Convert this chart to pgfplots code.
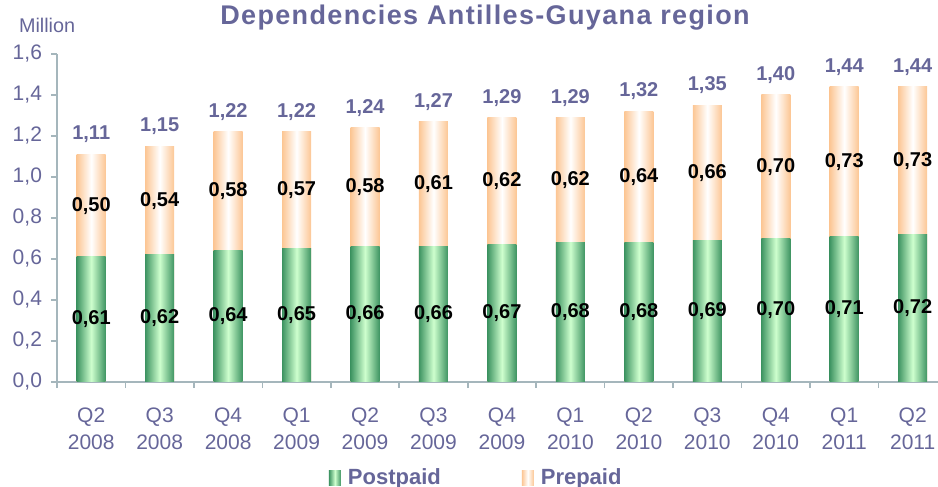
\documentclass[border=0pt]{standalone}
\usepackage{pgfplots}
\usepackage{pgfplotstable}
\usepackage{fontspec}
\setmainfont{Liberation Sans}
\pgfplotsset{compat=1.18}
\pgfkeys{/pgf/number format/assume math mode=true}

\definecolor{txtblue}{RGB}{102,102,153}
\definecolor{axisgray}{RGB}{165,182,188}
\definecolor{greenedge}{RGB}{62,148,98}
\definecolor{greenmid}{RGB}{206,255,206}
\definecolor{peachedge}{RGB}{252,198,148}

% Quarter, postpaid, prepaid, total (million)
\pgfplotstableread{
x post pre tot
0  0.61 0.50 1.11
1  0.62 0.54 1.15
2  0.64 0.58 1.22
3  0.65 0.57 1.22
4  0.66 0.58 1.24
5  0.66 0.61 1.27
6  0.67 0.62 1.29
7  0.68 0.62 1.29
8  0.68 0.64 1.32
9  0.69 0.66 1.35
10 0.70 0.70 1.40
11 0.71 0.73 1.44
12 0.72 0.73 1.44
}\data

\pgfplotsset{
  base/.style={
    scale only axis,
    width=440.5pt, height=164pt,
    at={(28.5pt,52.5pt)}, anchor=south west,
    xmin=-0.5, xmax=12.37,
    ymin=0, ymax=1.6,
  },
  greenbar/.style={draw=none, left color=greenedge, right color=greenedge, middle color=greenmid},
  peachbar/.style={draw=none, left color=peachedge, right color=peachedge, middle color=white},
  lab/.style={
    draw=none, mark=none,
    point meta=explicit,
    nodes near coords={\pgfmathprintnumber[fixed,fixed zerofill,precision=2,use comma]{\pgfplotspointmeta}},
    every node near coord/.append style={font=\bfseries\fontsize{10}{12}\selectfont},
  },
}

\begin{document}
\begin{tikzpicture}
\useasboundingbox (0,0) rectangle (469pt,243.5pt);

\begin{axis}[
  base,
  ybar,
  bar width=14.5pt,
  axis lines=left,
  axis line style={-, axisgray, line width=0.8pt},
  tick align=outside,
  ytick={0,0.2,...,1.6},
  y tick style={axisgray, line width=0.8pt},
  major tick length=3pt,
  minor tick length=3pt,
  xtick={0,...,12},
  major x tick style={draw=none},
  minor xtick={-0.5,0.5,...,11.5},
  minor x tick style={axisgray, line width=0.8pt},
  xticklabels={{Q2\\2008},{Q3\\2008},{Q4\\2008},{Q1\\2009},{Q2\\2009},{Q3\\2009},{Q4\\2009},{Q1\\2010},{Q2\\2010},{Q3\\2010},{Q4\\2010},{Q1\\2011},{Q2\\2011}},
  xticklabel style={align=center, font=\fontsize{10.5}{13.5}\selectfont, text=txtblue, yshift=-6.5pt},
  yticklabel style={font=\fontsize{10.5}{12}\selectfont, text=txtblue, xshift=-1pt,
    /pgf/number format/.cd, fixed, fixed zerofill, precision=1, use comma},
  legend columns=2,
  legend style={draw=none, at={(0.477,-0.293)}, anchor=center,
    font=\bfseries\fontsize{11}{12}\selectfont, text=txtblue,
    /tikz/every odd column/.append style={column sep=1.5pt},
    /tikz/every even column/.append style={column sep=38.5pt}},
  legend image code/.code={\path[#1] (0pt,-3.75pt) rectangle (6pt,3.75pt);},
]
\addlegendimage{greenbar}
\addlegendentry{Postpaid}
\addlegendimage{peachbar}
\addlegendentry{Prepaid}
% one plot per quarter, so that every bar gets its own gradient
\pgfplotsinvokeforeach{0,...,12}{
  \addplot[peachbar, bar shift=0pt, forget plot, x filter/.expression={abs(x-#1)<0.1 ? x : nan}]
    table[x=x, y=tot] {\data};
  \addplot[greenbar, bar shift=0pt, forget plot, x filter/.expression={abs(x-#1)<0.1 ? x : nan}]
    table[x=x, y=post] {\data};
}
\end{axis}

\begin{axis}[base, hide axis, clip=false]
\addplot[lab, every node near coord/.append style={anchor=center, inner sep=0pt}]
  table[x=x, y expr=\thisrow{post}/2, meta=post] {\data};
\addplot[lab, every node near coord/.append style={anchor=center, inner sep=0pt}]
  table[x=x, y expr=(\thisrow{post}+\thisrow{tot})/2, meta=pre] {\data};
\addplot[lab, every node near coord/.append style={anchor=south, inner sep=0pt, yshift=5.5pt, text=txtblue}]
  table[x=x, y=tot, meta=tot] {\data};
\end{axis}

\node[anchor=west, text=txtblue, font=\fontsize{9.9}{12}\selectfont] at (6pt,231pt) {Million};
\node[text=txtblue, font=\bfseries\fontsize{13.5}{15}\selectfont\addfontfeature{LetterSpace=5}] at (242.5pt,234.5pt) {Dependencies Antilles-Guyana region};
\end{tikzpicture}
\end{document}
